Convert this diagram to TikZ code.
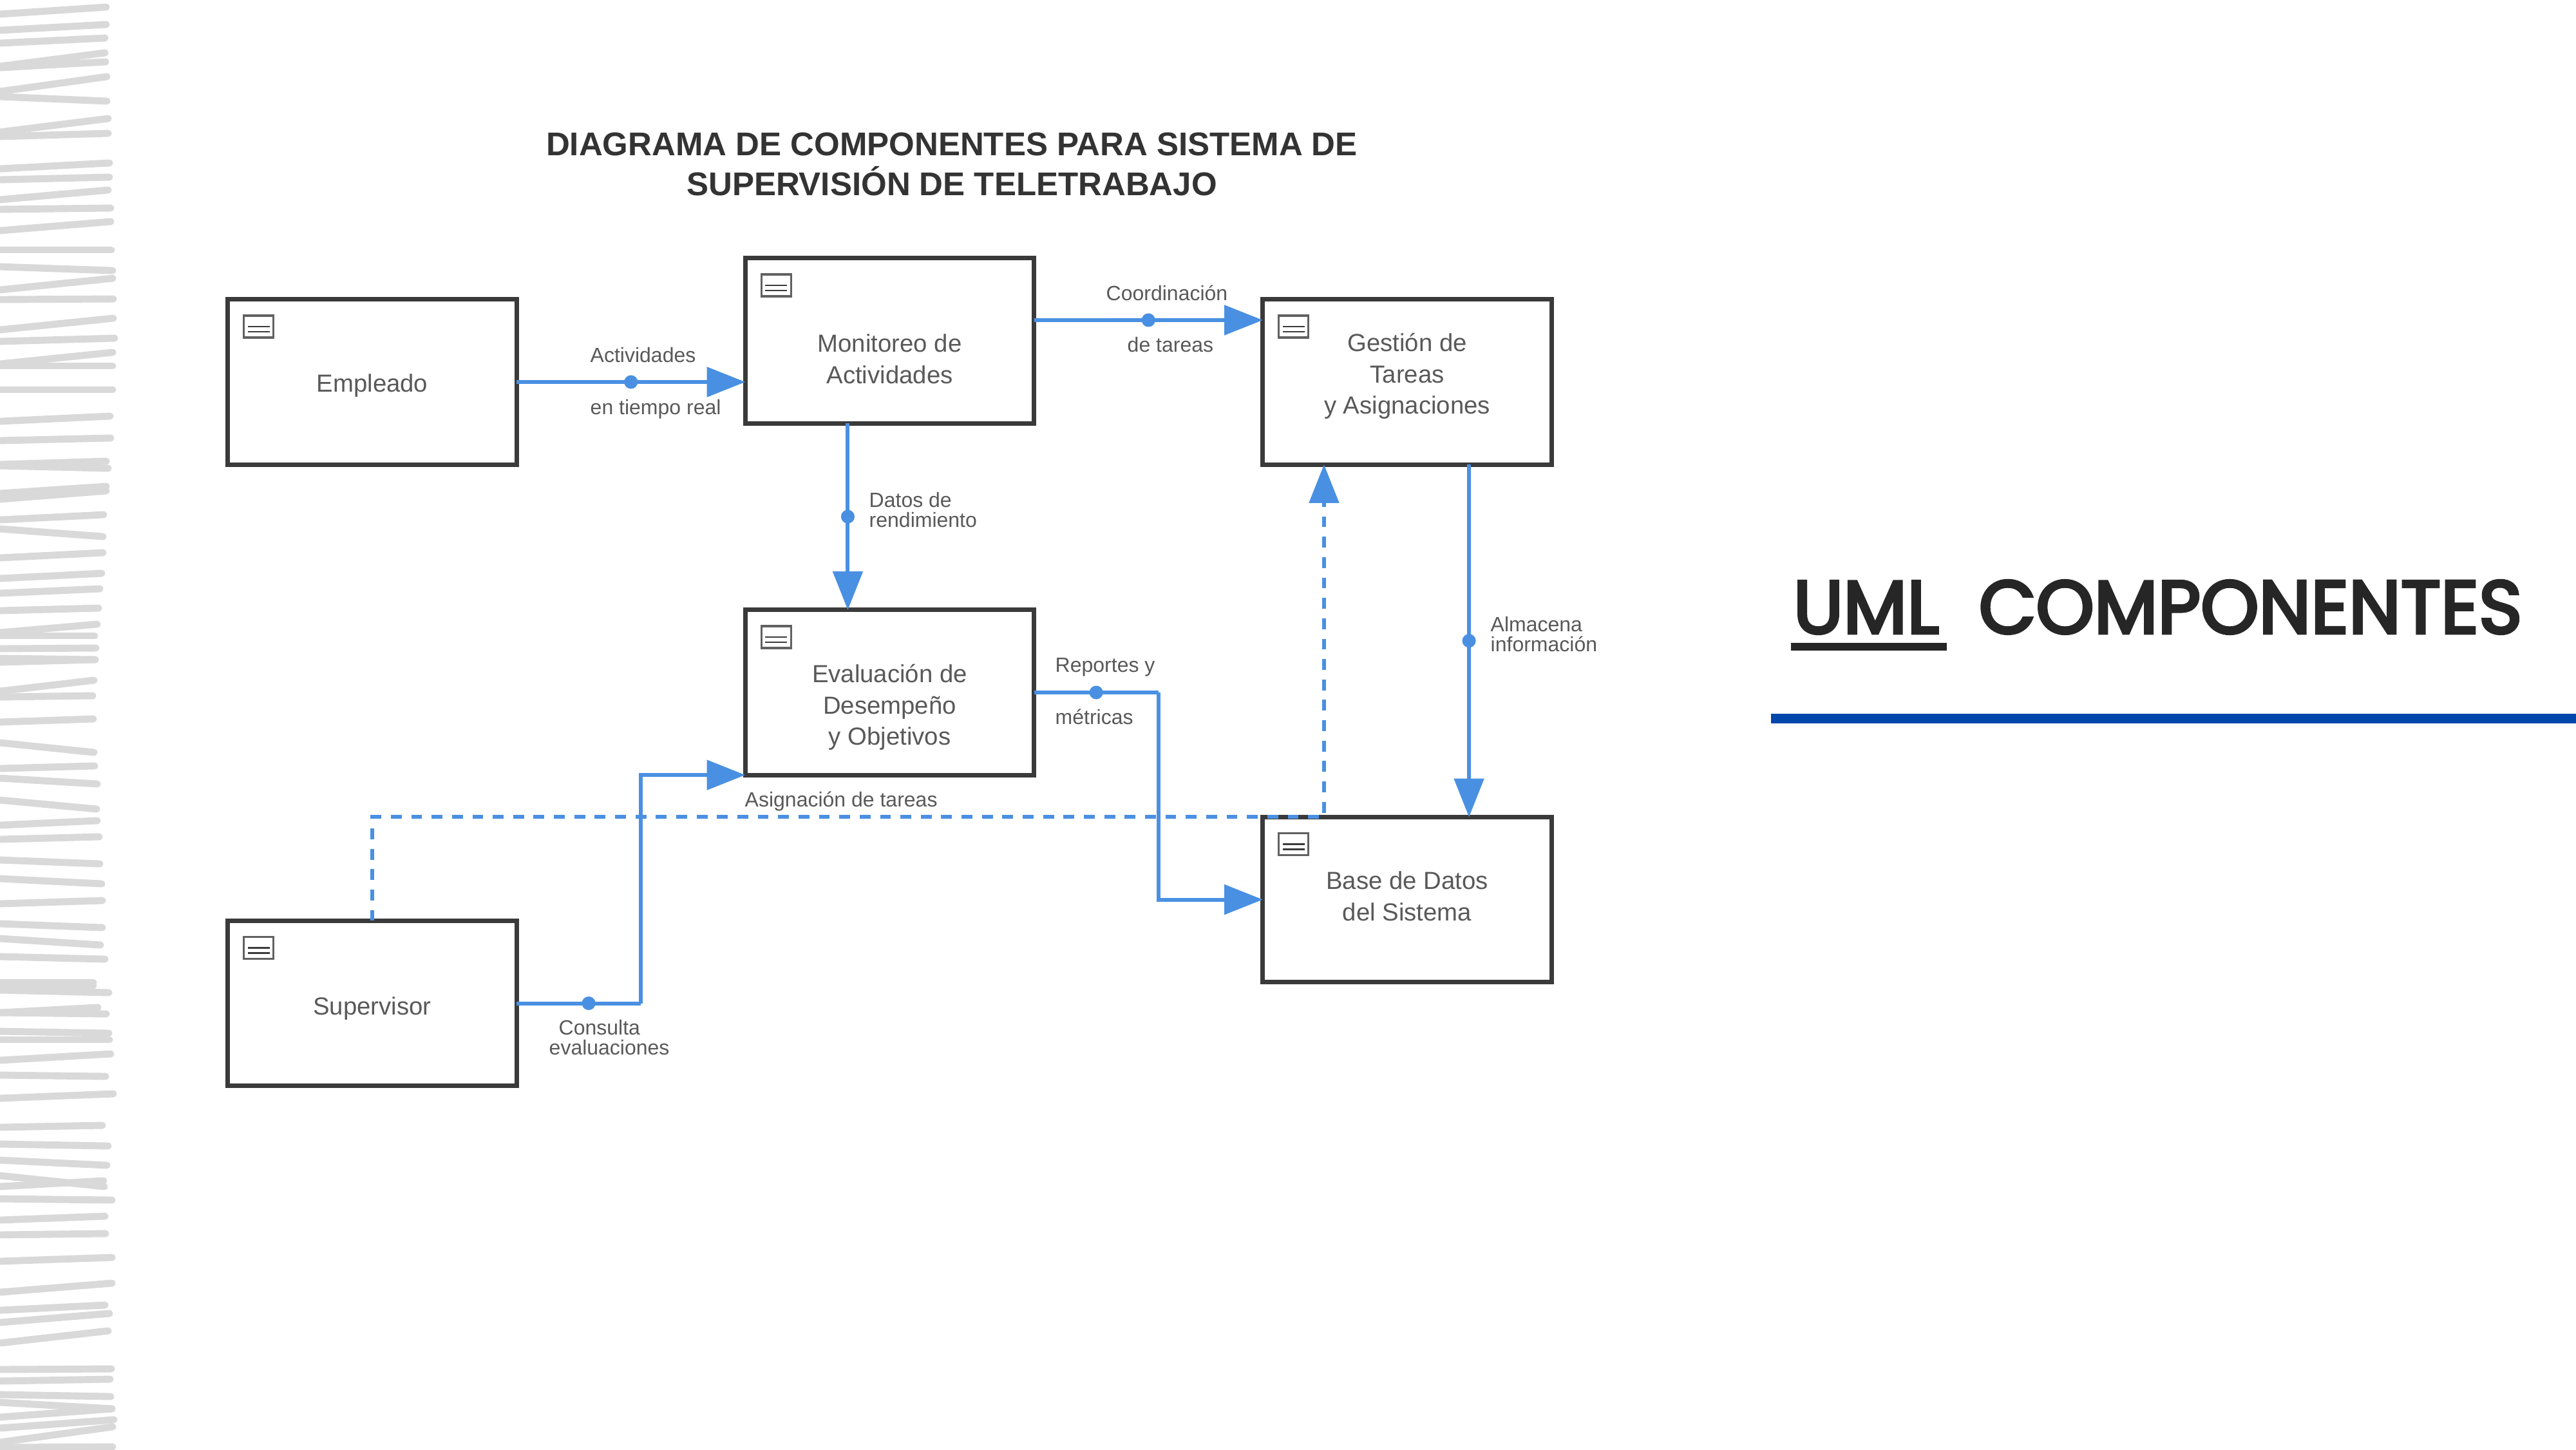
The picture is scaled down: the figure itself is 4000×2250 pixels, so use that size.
\documentclass[tikz,border=0pt]{standalone}
\usepackage{fontspec}
\setmainfont{Liberation Sans}
\newfontfamily\umlfont[FakeBold=4]{Poppins}
\usetikzlibrary{arrows.meta}
\definecolor{flowblue}{HTML}{4A90E2}
\definecolor{boxgray}{HTML}{3A3A3A}
\definecolor{stripgray}{HTML}{D9D9D9}
\definecolor{rulerblue}{HTML}{0047AB}
\tikzset{
  compbox/.style={draw=boxgray, line width=2pt, fill=white, rectangle, minimum width=4.48cm, minimum height=2.56cm, inner sep=0pt, outer sep=0pt},
  comptext/.style={align=center, text=black!65, font=\fontsize{10.9}{13.8}\selectfont, inner sep=0pt},
  flowlabel/.style={anchor=west, text=black!65, font=\fontsize{9.1}{8.8}\selectfont, inner sep=0pt, align=left},
  flowline/.style={draw=flowblue, line width=1.7pt, -{Triangle[length=17pt,width=13pt,fill=flowblue]}},
  plainline/.style={draw=flowblue, line width=1.7pt},
  dashline/.style={flowline, dash pattern=on 4.8pt off 4.2pt},
  flowdot/.style={circle, fill=flowblue, inner sep=0pt, minimum size=6pt},
  handstroke/.style={draw=stripgray, line width=3.1pt, line cap=round},
  iconbox/.style={draw=boxgray!80, line width=.9pt, fill=white},
  iconline/.style={draw=boxgray, line width=.7pt},
  bigtext/.style={anchor=base west, inner sep=0pt, text=black!85, xscale=.99, transform shape, font=\umlfont\fontsize{33}{33}\selectfont}
}
\begin{document}
\begin{tikzpicture}[x=0.01cm, y=-0.01cm]
\useasboundingbox (0,0) rectangle (4000,2250);
\fill[white] (0,0) rectangle (4000,2250); %page

\foreach \yl/\yr/\xr in {22/11/165, 47/38/165, 67/59/163, 103/82/163, 105/96/164, 142/119/166, 150/157/166, 205/184/168, 212/207/168, 262/253/170, 279/275/170, 310/295/168, 325/323/172, 358/344/172, 388/388/173, 414/420/175, 450/432/175, 465/464/176, 512/494/176, 530/525/178, 565/547/175, 568/568/175, 605/605/175, 654/646/171, 684/680/172, 721/716/165, 723/727/168, 766/755/165, 775/762/165, 807/799/161, 821/833/160, 866/858/160, 898/890/158, 921/914/155, 948/944/153, 982/969/151, 987/987/147, 1007/1006/149, 1022/1024/148, 1028/1024/148, 1073/1056/146, 1082/1080/144, 1121/1116/145, 1153/1168/146, 1193/1189/147, 1208/1217/151, 1242/1256/150, 1281/1274/151, 1303/1299/154, 1335/1341/155, 1364/1372/158, 1403/1398/159, 1434/1440/159, 1457/1467/156, 1485/1489/163, 1525/1525/145, 1532/1530/145, 1537/1541/169, 1572/1564/152, 1572/1574/165, 1601/1604/169, 1614/1614/170, 1646/1636/172, 1669/1671/164, 1705/1698/176, 1750/1747/159, 1776/1779/168, 1801/1809/166, 1825/1842/162, 1842/1833/161, 1861/1863/174, 1894/1888/163, 1917/1915/164, 1958/1952/174, 2006/1992/174, 2034/2026/163, 2053/2039/170, 2085/2066/168, 2126/2125/173, 2144/2141/171, 2165/2168/172, 2177/2187/174, 2200/2187/174, 2217/2204/177, 2239/2215/175, 2247/2246/175}
  \draw[handstroke] (0,\yl) -- (\xr,\yr); %left strip

\node[align=center, text=black!80, inner sep=0pt, font=\fontsize{14.5}{17.4}\selectfont\bfseries] (title) at (1478,255) {DIAGRAMA DE COMPONENTES PARA SISTEMA DE\\SUPERVISIÓN DE TELETRABAJO};

\node[compbox] (empleado) at (578,593) {};
\node[compbox] (monitoreo) at (1381.5,529) {};
\node[compbox] (gestion) at (2185,593) {};
\node[compbox] (evaluacion) at (1381.5,1075) {};
\node[compbox] (base) at (2185,1396.5) {};
\node[compbox] (supervisor) at (578,1557.5) {};

\node[comptext, yshift=-.06cm] (empleado_txt) at (empleado) {Empleado};
\node[comptext, yshift=-.28cm] (monitoreo_txt) at (monitoreo) {Monitoreo de\\Actividades};
\node[comptext, yshift=.09cm] (gestion_txt) at (gestion) {Gestión de\\Tareas\\y Asignaciones};
\node[comptext, yshift=-.23cm] (evaluacion_txt) at (evaluacion) {Evaluación de\\Desempeño\\y Objetivos};
\node[comptext, yshift=.05cm] (base_txt) at (base) {Base de Datos\\del Sistema};
\node[comptext, yshift=-.08cm] (supervisor_txt) at (supervisor) {Supervisor};

\foreach \comp in {empleado,monitoreo,gestion,evaluacion,base,supervisor} {
  \draw[iconbox] ([shift={(25,25)}]\comp.north west) rectangle ([shift={(71,59)}]\comp.north west); %icon
  \draw[iconline] ([shift={(31,42)}]\comp.north west) -- ([shift={(65,42)}]\comp.north west);
  \draw[iconline] ([shift={(31,50)}]\comp.north west) -- ([shift={(65,50)}]\comp.north west);
}

\draw[flowline] (empleado.east) -- node[flowdot, pos=.5] (dot_act) {} (empleado.east -| monitoreo.west);
\draw[flowline] ([yshift=.32cm]monitoreo.east) -- node[flowdot, pos=.5] (dot_coord) {} ([yshift=.96cm]gestion.west);
\draw[flowline] ([xshift=-.65cm]monitoreo.south) -- node[flowdot, pos=.5] (dot_datos) {} ([xshift=-.65cm]evaluacion.north);
\draw[flowline] ([xshift=.96cm]gestion.south) -- node[flowdot, pos=.5] (dot_alm) {} ([xshift=.96cm]base.north);
\draw[dashline] (supervisor.north) |- ([xshift=-1.29cm]base.north) -- ([xshift=-1.29cm]gestion.south); %dashed one
\draw[plainline] (evaluacion.east) -- node[flowdot, pos=.5] (dot_rep) {} ++(193,0) coordinate (rep_bend);
\draw[flowline] (rep_bend) |- (base.west);
\draw[plainline] (supervisor.east) -- node[flowdot, pos=.58] (dot_cons) {} ++(193,0) coordinate (cons_bend);
\draw[flowline] (cons_bend) |- (evaluacion.south west);

\node[flowlabel] (lbl_act1) at (916,551) {Actividades};
\node[flowlabel] (lbl_act2) at (916,635) {en tiempo real};
\node[flowlabel] (lbl_coord1) at (1717,455) {Coordinación};
\node[flowlabel] (lbl_coord2) at (1750,535) {de tareas};
\node[flowlabel] (lbl_datos) at (1349,792) {Datos de\\rendimiento};
\node[flowlabel] (lbl_alm) at (2314,985) {Almacena\\información};
\node[flowlabel] (lbl_rep1) at (1638,1036) {Reportes y};
\node[flowlabel] (lbl_rep2) at (1638,1113) {métricas};
\node[flowlabel] (lbl_asig) at (1156,1244) {Asignación de tareas};
\node[flowlabel] (lbl_cons1) at (867,1595) {Consulta};
\node[flowlabel] (lbl_cons2) at (852,1626) {evaluaciones};

\node[bigtext] (uml) at (2784,983) {UML};
\node[bigtext] (componentes) at (3072,983) {COMPONENTES};
\fill[black!85] (2781,998) rectangle (3023,1010); %underline
\fill[rulerblue] (2750,1108) rectangle (4000,1123); %rule
\end{tikzpicture}
\end{document}
